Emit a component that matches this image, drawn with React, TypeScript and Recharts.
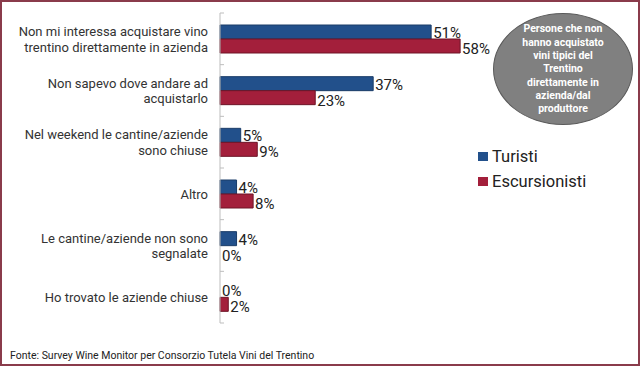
import React from 'react';
import { BarChart, Bar, XAxis, YAxis, LabelList, Cell } from 'recharts';

const categories = [
  'Non mi interessa acquistare vino\ntrentino direttamente in azienda',
  'Non sapevo dove andare ad\nacquistarlo',
  'Nel weekend le cantine/aziende\nsono chiuse',
  'Altro',
  'Le cantine/aziende non sono\nsegnalate',
  'Ho trovato le aziende chiuse',
];
const turisti = [51, 37, 5, 4, 4, 0];
const escursionisti = [58, 23, 9, 8, 0, 2];
const bubbleLines = ['Persone che non', 'hanno acquistato', 'vini tipici del', 'Trentino', 'direttamente in', 'azienda/dal', 'produttore'];

const data = categories.map((name, i) => ({ name, turisti: turisti[i], escursionisti: escursionisti[i] }));

const BLUE = '#22508b';
const RED = '#a31f3b';
const FONT = 'Roboto, "Liberation Sans", sans-serif';
const CHART_H = 366;
const MARGIN = { top: 13, right: 6, bottom: 43, left: 0 };
const BAND = (CHART_H - MARGIN.top - MARGIN.bottom) / categories.length;

const CategoryTick = (props: any) => {
  const { x, y, payload } = props;
  const lines: string[] = String(payload.value).split('\n');
  const lh = 15.5;
  const start = y - ((lines.length - 1) * lh) / 2;
  return (
    <g>
      <line x1={x + 8} x2={x + 12} y1={y - BAND / 2} y2={y - BAND / 2} stroke="#bdbdbd" />
      {payload.index === categories.length - 1 && (
        <line x1={x + 8} x2={x + 12} y1={y + BAND / 2} y2={y + BAND / 2} stroke="#bdbdbd" />
      )}
      <text x={x - 4} y={start} textAnchor="end" fontSize={13} fill="#333" fontFamily={FONT} dominantBaseline="central">
        {lines.map((l, i) => (
          <tspan key={i} x={x - 4} dy={i === 0 ? 0 : lh}>{l}</tspan>
        ))}
      </text>
    </g>
  );
};

// labels sit a little below the bar centre, as in the original slide
const makeLabel = (dy: number) => (props: any) => {
  const { x, y, width, height, value } = props;
  return (
    <text x={x + width + 2} y={y + height / 2 + dy} fontSize={15} fill="#222" fontFamily={FONT} dominantBaseline="central">
      {value}%
    </text>
  );
};

const legendItems = [{ c: BLUE, t: 'Turisti' }, { c: RED, t: 'Escursionisti' }];

export default function App() {
  return (
    <div style={{ position: 'absolute', left: 0, top: 0, width: 640, height: 366, background: '#fff', fontFamily: FONT }}>
      <BarChart width={640} height={CHART_H} data={data} layout="vertical" margin={MARGIN} barGap={0} barSize={14}>
        <XAxis type="number" domain={[0, 100]} hide />
        <YAxis
          type="category"
          dataKey="name"
          width={220}
          tick={<CategoryTick />}
          tickLine={false}
          axisLine={{ stroke: '#bdbdbd' }}
          interval={0}
        />
        <Bar dataKey="turisti" name="Turisti" fill={BLUE} stroke="#1a3c68" minPointSize={0.01} isAnimationActive={false}>
          {data.map((d, i) => (
            <Cell key={i} stroke={d.turisti === 0 ? 'none' : '#1a3c68'} fill={d.turisti === 0 ? 'none' : BLUE} />
          ))}
          <LabelList dataKey="turisti" content={makeLabel(1)} />
        </Bar>
        <Bar dataKey="escursionisti" name="Escursionisti" fill={RED} stroke="#6e1527" minPointSize={0.01} isAnimationActive={false}>
          {data.map((d, i) => (
            <Cell key={i} stroke={d.escursionisti === 0 ? 'none' : '#6e1527'} fill={d.escursionisti === 0 ? 'none' : RED} />
          ))}
          <LabelList dataKey="escursionisti" content={makeLabel(3)} />
        </Bar>
      </BarChart>
      <div style={{ position: 'absolute', left: 478, top: 144, fontSize: 16.5, color: '#222' }}>
        {legendItems.map((it) => (
          <div key={it.t} style={{ display: 'flex', alignItems: 'center', height: 25 }}>
            <span style={{ width: 10, height: 9, background: it.c, display: 'inline-block', marginRight: 4 }} />
            {it.t}
          </div>
        ))}
      </div>
      <div
        style={{
          position: 'absolute', left: 493, top: 13, width: 140, height: 112, borderRadius: '50%',
          background: '#808080', border: '1px solid #5a5a5a', boxSizing: 'border-box',
          display: 'flex', flexDirection: 'column', alignItems: 'center', justifyContent: 'center',
          color: '#fff', fontWeight: 700, fontSize: 10.5, lineHeight: '13.3px', textAlign: 'center',
        }}
      >
        {bubbleLines.map((l) => <div key={l}>{l}</div>)}
      </div>
      <div style={{ position: 'absolute', left: 10, top: 349, fontSize: 10.5, color: '#222', whiteSpace: 'nowrap' }}>
        Fonte: Survey Wine Monitor per Consorzio Tutela Vini del Trentino
      </div>
      <div style={{ position: 'absolute', left: 0, top: 0, width: 640, height: 366, border: '2px solid #8a3b4b', boxSizing: 'border-box', pointerEvents: 'none' }} />
    </div>
  );
}
